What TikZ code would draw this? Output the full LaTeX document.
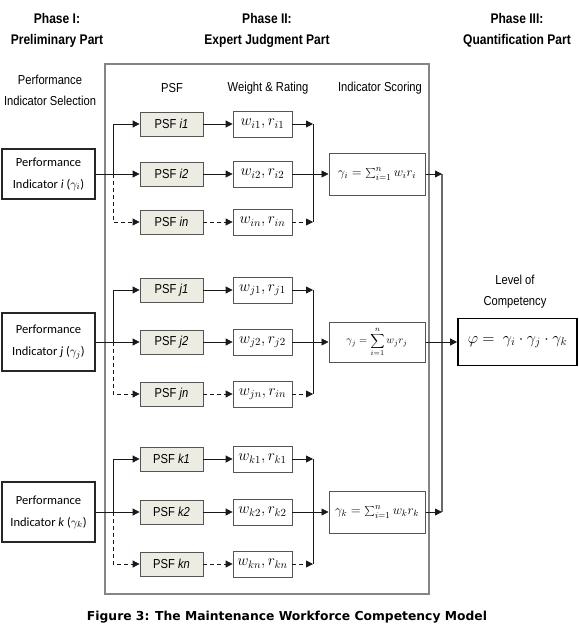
\RequirePackage{fix-cm}
\documentclass[tikz,border=0pt]{standalone}
\usepackage[no-math]{fontspec}
\setmainfont{Liberation Sans}[FakeStretch=0.86]
\newfontfamily\calib{Carlito}
\newfontfamily\capfont{DejaVu Sans}
\usetikzlibrary{arrows.meta,calc}
\definecolor{psfgray}{HTML}{ECECE2}
\definecolor{framegray}{HTML}{858585}
\definecolor{boxline}{HTML}{555555}
\begin{document}
\begin{tikzpicture}[x=1pt,y=-1pt,
  conn/.style={line width=0.8pt, draw=black!90},
  arr/.style={conn,-{Triangle[length=7pt,width=7pt]}},
  dsh/.style={dash pattern=on 4pt off 3pt},
  psf/.style={draw=boxline, fill=psfgray, line width=0.8pt, minimum width=63pt, minimum height=24pt, inner sep=0pt, font=\fontsize{13}{15}\selectfont},
  wbox/.style={draw=boxline, fill=white, line width=0.8pt, minimum width=59pt, minimum height=26pt, inner sep=0pt, font=\fontsize{15.5}{17}\selectfont},
  ind/.style={draw=black!85, line width=1.2pt, fill=white, minimum width=93pt, inner sep=0pt, align=center, font=\calib\fontsize{12.5}{22}\selectfont},
  gbox/.style={draw=boxline, line width=1pt, fill=white, minimum width=96pt, inner sep=0pt, font=\fontsize{13}{15}\selectfont},
  head/.style={align=center, font=\fontsize{14}{21}\selectfont\bfseries},
  lab/.style={align=center, font=\fontsize{13}{21}\selectfont}
]
\useasboundingbox (0,0) rectangle (578,626);

% headers
\node[head] (h1) at (57,30.5) {Phase I:\\Preliminary Part};
\node[head] (h2) at (267,30.5) {Phase II:\\Expert Judgment Part};
\node[head] (h3) at (517,30.5) {Phase III:\\Quantification Part};
\node[lab] (sel) at (50,90.5) {Performance\\Indicator Selection};

% frame
\node[draw=framegray, line width=1.5pt, minimum width=324pt, minimum height=530pt, inner sep=0pt] (frame) at (267,329) {};
\node[lab] (cpsf) at (172,88) {PSF};
\node[lab] (cwr) at (268,88) {Weight \& Rating};
\node[lab] (cis) at (380,88) {Indicator Scoring};

% ---------- row i ----------
\node[ind, minimum height=50pt] (Pi) at (48.5,174) {Performance\\Indicator \textit{i} ($\gamma_i$)};
\node[psf] (Si1) at (171.5,124) {PSF \textit{i1}};
\node[psf] (Si2) at (171.5,174) {PSF \textit{i2}};
\node[psf] (Sin) at (171.5,222) {PSF \textit{in}};
\node[wbox] (Wi1) at (262.5,124) {$w_{i1}, r_{i1}$};
\node[wbox] (Wi2) at (262.5,174) {$w_{i2}, r_{i2}$};
\node[wbox] (Win) at (262.5,222) {$w_{in}, r_{in}$};
\node[gbox, minimum height=42pt] (Gi) at (377,174) {$\gamma_i = \sum_{i=1}^{n} w_i r_i$};

% ---------- row j ----------
\node[ind, minimum height=58pt] (Pj) at (48.5,342) {Performance\\Indicator \textit{j} ($\gamma_j$)};
\node[psf] (Sj1) at (171.5,290) {PSF \textit{j1}};
\node[psf] (Sj2) at (171.5,342) {PSF \textit{j2}};
\node[psf] (Sjn) at (171.5,394) {PSF \textit{jn}};
\node[wbox] (Wj1) at (262.5,290) {$w_{j1}, r_{j1}$};
\node[wbox] (Wj2) at (262.5,342) {$w_{j2}, r_{j2}$};
\node[wbox] (Wjn) at (262.5,394) {$w_{jn}, r_{in}$};
\node[gbox, minimum height=40pt, font=\fontsize{10.5}{12}\selectfont] (Gj) at (377,342) {$\gamma_j = \displaystyle\sum_{i=1}^{n} w_j r_j$};

% ---------- row k ----------
\node[ind, minimum height=60pt] (Pk) at (48.5,512) {Performance\\Indicator \textit{k} ($\gamma_k$)};
\node[psf] (Sk1) at (171.5,459) {PSF \textit{k1}};
\node[psf] (Sk2) at (171.5,512) {PSF \textit{k2}};
\node[psf] (Skn) at (171.5,564) {PSF \textit{kn}};
\node[wbox] (Wk1) at (262.5,459) {$w_{k1}, r_{k1}$};
\node[wbox] (Wk2) at (262.5,512) {$w_{k2}, r_{k2}$};
\node[wbox] (Wkn) at (262.5,564) {$w_{kn}, r_{kn}$};
\node[gbox, minimum height=42pt] (Gk) at (377,512) {$\gamma_k = \sum_{i=1}^{n} w_k r_k$};

% phase III
\node[lab] (loc) at (515,292) {Level of\\Competency};
\node[draw=black, line width=1.8pt, minimum width=119pt, minimum height=47pt, inner sep=0pt, font=\fontsize{16}{18}\selectfont] (Phi) at (517.5,342) {$\varphi = \ \gamma_i \cdot \gamma_j \cdot \gamma_k$};

% connectors per row
\foreach \r in {i,j,k}{
  \coordinate (x\r) at (113,0 |- S\r2);
  \coordinate (m\r) at (313,0 |- W\r2);
  \draw[arr] (P\r.east) -- (S\r2.west);
  \draw[arr] (x\r) |- (S\r1.west);
  \draw[arr,dsh] (x\r) |- (S\r n.west);
  \draw[arr] (S\r1.east) -- (W\r1.west);
  \draw[arr] (S\r2.east) -- (W\r2.west);
  \draw[arr,dsh] (S\r n.east) -- (W\r n.west);
  \draw[arr] (W\r1.east) -- (m\r |- W\r1);
  \draw[arr,dsh] (W\r n.east) -- (m\r |- W\r n);
  \draw[conn] (m\r |- W\r1) -- (m\r |- W\r n);
  \draw[arr] (W\r2.east) -- (G\r.west);
}

% right side collection
\coordinate (ri) at (442,0 |- Gi);
\coordinate (rk) at (442,0 |- Gk);
\draw[line width=1.1pt, draw=framegray!80!black] (ri) -- (rk);
\draw[arr] (Gi.east) -- (ri);
\draw[arr] (Gk.east) -- (rk);
\draw[arr] (Gj.east) -- (Phi.west);

% caption
\node[font=\capfont\bfseries] (cap) at (287,617) {\resizebox{400pt}{!}{Figure 3: The Maintenance Workforce Competency Model}};
\end{tikzpicture}
\end{document}
